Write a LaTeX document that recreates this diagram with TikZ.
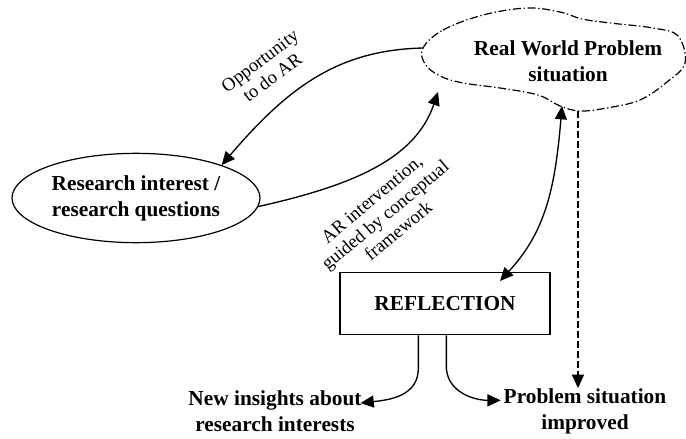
\documentclass[tikz,border=0pt]{standalone}
\usepackage{fontspec}
\setmainfont{Liberation Serif}
\usetikzlibrary{arrows.meta, shapes.geometric, calc}

\begin{document}
\begin{tikzpicture}[
  x=0.75pt, y=-0.75pt,
  topic/.style={ellipse, draw, line width=0.9pt, minimum width=186pt, minimum height=67pt, inner sep=0pt, align=center, font=\fontsize{16}{19.5}\selectfont\bfseries},
  stepbox/.style={rectangle, draw, line width=0.9pt, minimum width=157.5pt, minimum height=47pt, font=\fontsize{16}{19.5}\selectfont\bfseries},
  outcome/.style={align=center, inner sep=0pt, font=\fontsize{16}{19.5}\selectfont\bfseries},
  arrow/.style={-{Triangle[length=10pt, width=9pt]}, line width=1pt},
  two_way/.style={{Triangle[length=10pt, width=9pt]}-{Triangle[length=10pt, width=9pt]}, line width=1pt},
  dash_arrow/.style={arrow, dash pattern=on 5pt off 2.5pt},
  cloud_line/.style={line width=0.9pt, dash pattern=on 6pt off 2pt on 1pt off 2pt},
  edge_label/.style={align=center, inner sep=0pt, font=\fontsize{14}{15.5}\selectfont}
]
  \useasboundingbox (0,0) rectangle (686,439);

  % Real world problem (cloud)
  \draw[cloud_line] plot[smooth cycle, tension=0.6] coordinates {
    (423,48) (443,30) (483,15) (527,8) (560,12) (582,19) (610,23)
    (653,28) (678,36) (685,63) (667,82) (640,100) (607,108) (580,111)
    (560,106) (538,95) (500,88) (463,83) (440,76) (425,64)};
  \node[outcome] (rw) at (568,61) {Real World Problem\\situation};
  \coordinate (rwW) at (423,48);
  \coordinate (rwSW) at (438,92);
  \coordinate (rwS) at (562,106);
  \coordinate (rwSE) at (578,111);

  % Research interest
  \node[topic] (ri) at (136,198) {Research interest /\\research questions};

  % Reflection
  \node[stepbox] (refl) at (445,303.5) {REFLECTION};
  \coordinate (reflN) at (500,281);

  % Outcomes
  \node[outcome] (ni) at (275,411) {New insights about\\research interests};
  \node[outcome] (ps) at (585,411) {Problem situation\\improved};

  % Connections
  \draw[arrow] (rwW) .. controls (340,50) and (290,85) .. (ri.21);
  \node[edge_label, rotate=37] (opp) at (266,69) {Opportunity\\to do AR};

  \draw[arrow] (ri.-4) .. controls (350,186) and (415,160) .. (rwSW);
  \node[edge_label, rotate=40] (arint) at (385,215) {AR intervention,\\guided by conceptual\\framework};

  \draw[two_way] (rwS) .. controls (555,190) and (545,232) .. (reflN);
  \draw[dash_arrow] (rwSE) -- (rwSE |- ps.north);

  \draw[arrow] ([xshift=-20pt]refl.south) -- ++(0,33) .. controls +(0,28) and +(28,-3) .. ([yshift=6pt,xshift=-1pt]ni.east);
  \draw[arrow] ([xshift=1pt]refl.south) -- ++(0,33) .. controls +(2,25) and +(-25,0) .. ([yshift=8pt,xshift=-2pt]ps.west);

\end{tikzpicture}
\end{document}
